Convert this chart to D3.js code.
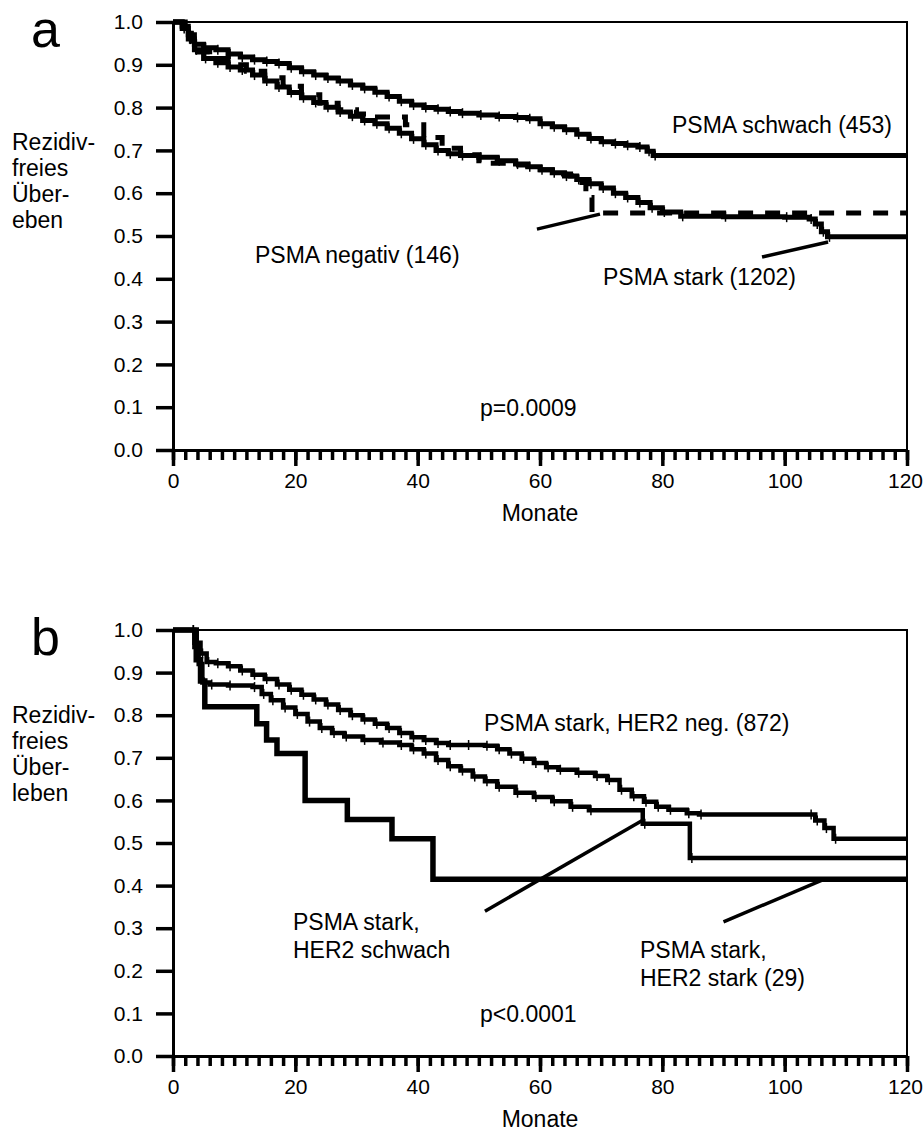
<!DOCTYPE html>
<html>
<head>
<meta charset="utf-8">
<script src="https://cdn.jsdelivr.net/npm/d3@7"></script>
<style>
  body { margin: 0; background: #fff; }
  svg text { font-family: "Liberation Sans", Arial, sans-serif; fill: #000; }
</style>
</head>
<body>
<svg id="chart" width="923" height="1131"></svg>
<script>
// ---- data (months, relapse-free survival) ----
const schwachM = [0,1.5,2.5,3.5,5,7,9,11,13,15,17,19,21,23,25,27,29,31,33,35,37,39,41,43,45,47,50,53,56,58,60,62,64,66,68,70,72,74,76,77.5,78.5,120];
const schwachS = [1,0.99,0.97,0.948,0.94,0.935,0.925,0.918,0.912,0.908,0.903,0.893,0.884,0.876,0.869,0.862,0.853,0.845,0.836,0.826,0.815,0.806,0.8,0.796,0.791,0.787,0.783,0.779,0.777,0.774,0.762,0.755,0.748,0.738,0.728,0.72,0.716,0.712,0.708,0.698,0.688,0.688];

const starkM = [0,1.5,2.5,3.5,5,7,9,11,13,15,17,19,21,23,25,27,29,31,33,35,37,39,41,43,45,47,50,53,56,58,60,62,64,66,68,70,72,74,76,78,80,83,90,100,104,105,106,107,120];
const starkS = [1,0.985,0.96,0.935,0.915,0.905,0.895,0.888,0.876,0.862,0.848,0.835,0.823,0.812,0.801,0.79,0.78,0.77,0.762,0.752,0.74,0.727,0.713,0.7,0.692,0.688,0.684,0.676,0.668,0.662,0.655,0.648,0.64,0.632,0.622,0.612,0.6,0.59,0.578,0.566,0.556,0.546,0.545,0.544,0.54,0.528,0.51,0.498,0.498];

const negativM = [0,2,3,4,6,9,12,15,18,21,24,27,30,32,36,38,41,44,47,50,55,58,62,65,66,67.5,68.5,120];
const negativS = [1,0.98,0.955,0.93,0.915,0.9,0.885,0.87,0.85,0.83,0.81,0.795,0.785,0.778,0.778,0.76,0.73,0.705,0.69,0.67,0.666,0.655,0.645,0.64,0.625,0.59,0.554,0.554];

const her2negM = [0,3,3.5,4.5,5.5,7,9,11,13,15,17,19,21,23,25,27,29,31,33,35,37,39,41,43,45,48,51,53,55,57,59,61,63,66,69,71,73,75,77,79,81,84,86,104,105,106.5,108,120];
const her2negS = [1,1,0.97,0.945,0.925,0.922,0.915,0.905,0.895,0.885,0.872,0.86,0.848,0.837,0.825,0.812,0.8,0.79,0.78,0.77,0.758,0.748,0.742,0.735,0.73,0.73,0.728,0.72,0.71,0.698,0.688,0.678,0.672,0.665,0.657,0.648,0.625,0.61,0.597,0.585,0.578,0.57,0.567,0.567,0.553,0.535,0.51,0.51];

const her2schwachM = [0,3,3.5,4.2,4.8,6,9,13,14.5,16,18,20,22,24,26,28,31,34,37,39,41,43,45,47,49,51,53,56,59,62,65,68,76.8,84.5,120];
const her2schwachS = [1,1,0.96,0.92,0.877,0.872,0.87,0.866,0.85,0.835,0.818,0.803,0.785,0.77,0.758,0.75,0.742,0.736,0.73,0.72,0.71,0.695,0.68,0.67,0.656,0.645,0.632,0.618,0.608,0.598,0.585,0.577,0.545,0.465,0.465];

const her2starkM = [0,3,3.8,4.5,5.2,13.7,15.3,17,21.6,28.5,35.8,42.5,120];
const her2starkS = [1,1,0.93,0.88,0.82,0.78,0.742,0.71,0.6,0.555,0.51,0.415,0.415];

const yTicks = [0,0.1,0.2,0.3,0.4,0.5,0.6,0.7,0.8,0.9,1.0];
const xMajor = [0,20,40,60,80,100,120];

const zip = (m, s) => m.map((d, i) => ({m: d, s: s[i]}));

var svg = d3.select("#chart");

function drawPanel(p) {
	var x = d3.scaleLinear().domain([0, 120]).range([173, 907]);
	var y = d3.scaleLinear().domain([0, 1]).range([p.bottom, p.top]);
	var g = svg.append("g");

	// frame (top + right)
	g.append("path")
		.attr("d", `M${x(0)},${y(1)}H${x(120)}V${y(0)}`)
		.attr("fill", "none").attr("stroke", "#000").attr("stroke-width", 2);

	// y axis
	var ya = g.append("g")
		.attr("transform", `translate(${x(0)},0)`)
		.call(d3.axisLeft(y).tickValues(yTicks).tickFormat(d3.format(".1f"))
			.tickSize(17).tickSizeOuter(0).tickPadding(13));
	ya.select(".domain").attr("stroke-width", 3);
	ya.selectAll(".tick line").attr("stroke-width", 3.5);
	ya.selectAll(".tick text").attr("font-size", 21).attr("font-family", "Liberation Sans, Arial");

	// x axis: minor ticks every 2 months, major every 20
	var xm = g.append("g")
		.attr("transform", `translate(0,${y(0)})`)
		.call(d3.axisBottom(x).tickValues(d3.range(0, 121, 2)).tickFormat("")
			.tickSize(10).tickSizeOuter(0));
	xm.selectAll(".tick line").attr("stroke-width", 3.5);
	xm.select(".domain").attr("stroke-width", 3);

	var xa = g.append("g")
		.attr("transform", `translate(0,${y(0)})`)
		.call(d3.axisBottom(x).tickValues(xMajor).tickSize(16).tickSizeOuter(0).tickPadding(7));
	xa.select(".domain").remove();
	xa.selectAll(".tick line").attr("stroke-width", 3.5);
	xa.selectAll(".tick text")
		.attr("font-size", 21).attr("font-family", "Liberation Sans, Arial")
		.attr("dx", d => d === 120 ? -2 : 0);

	g.append("text")
		.attr("x", x(60)).attr("y", y(0) + 71)
		.attr("text-anchor", "middle").attr("font-size", 23)
		.text("Monate");

	// panel letter
	g.append("text")
		.attr("x", 31).attr("y", y(1) + 25)
		.attr("font-size", 52)
		.text(p.letter);

	// y title
	p.yTitle.forEach((t, i) => {
		g.append("text")
			.attr("x", 12).attr("y", y(p.yTitleAt) + 8 + i * 26)
			.attr("font-size", 23)
			.text(t);
	});

	var line = d3.line()
		.x(d => x(d.m)).y(d => y(d.s))
		.curve(d3.curveStepAfter);

	p.curves.forEach(c => {
		var pts = zip(c.m, c.s);
		g.append("path")
			.datum(pts)
			.attr("d", line)
			.attr("fill", "none")
			.attr("stroke", "#000")
			.attr("stroke-width", c.w)
			.attr("stroke-dasharray", c.dash || null);
		if (c.censor) {
			g.selectAll(null)
				.data(pts.slice(1, -1))
				.enter()
				.append("line")
				.attr("x1", d => x(d.m) + 2).attr("x2", d => x(d.m) + 2)
				.attr("y1", d => y(d.s) - 5).attr("y2", d => y(d.s) + 5)
				.attr("stroke", "#000").attr("stroke-width", 1.5);
		}
	});

	// leader lines
	p.leaders.forEach(l => {
		g.append("line")
			.attr("x1", x(l[0])).attr("y1", y(l[1]))
			.attr("x2", x(l[2])).attr("y2", y(l[3]))
			.attr("stroke", "#000").attr("stroke-width", 3.5);
	});

	// labels
	p.labels.forEach(l => {
		l.lines.forEach((t, i) => {
			g.append("text")
				.attr("x", l.x).attr("y", l.y + i * 28)
				.attr("font-size", 23)
				.text(t);
		});
	});
}

drawPanel({
	letter: "a", top: 22, bottom: 450,
	yTitle: ["Rezidiv-", "freies", "Über-", "eben"], yTitleAt: 0.72,
	curves: [
		{m: schwachM, s: schwachS, w: 5, censor: true},
		{m: starkM, s: starkS, w: 5, censor: true},
		{m: negativM, s: negativS, w: 5, dash: "15,12"}
	],
	leaders: [[59.5, 0.516, 69.8, 0.551], [96.3, 0.451, 107.1, 0.486]],
	labels: [
		{x: 672, y: 133, lines: ["PSMA schwach (453)"]},
		{x: 255, y: 263, lines: ["PSMA negativ (146)"]},
		{x: 603, y: 285, lines: ["PSMA stark (1202)"]},
		{x: 480, y: 416, lines: ["p=0.0009"]}
	]
});

drawPanel({
	letter: "b", top: 630, bottom: 1056,
	yTitle: ["Rezidiv-", "freies", "Über-", "leben"], yTitleAt: 0.8,
	curves: [
		{m: her2negM, s: her2negS, w: 4.5, censor: true},
		{m: her2schwachM, s: her2schwachS, w: 4.5, censor: true},
		{m: her2starkM, s: her2starkS, w: 5.5}
	],
	leaders: [[51, 0.34, 77, 0.555], [90, 0.315, 106.5, 0.415]],
	labels: [
		{x: 484, y: 731, lines: ["PSMA stark, HER2 neg. (872)"]},
		{x: 293, y: 930, lines: ["PSMA stark,", "HER2 schwach"]},
		{x: 640, y: 958, lines: ["PSMA stark,", "HER2 stark (29)"]},
		{x: 480, y: 1022, lines: ["p<0.0001"]}
	]
});
</script>
</body>
</html>
